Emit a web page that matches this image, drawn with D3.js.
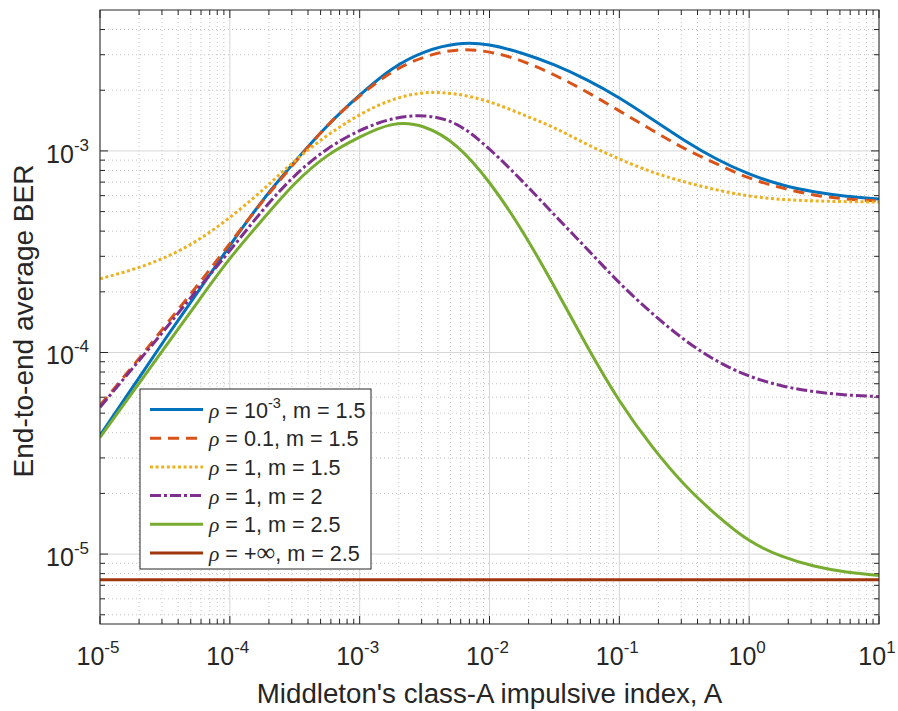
<!DOCTYPE html>
<html lang="en">
<head>
<meta charset="UTF-8">
<title>End-to-end average BER</title>
<script src="https://cdn.jsdelivr.net/npm/d3@7"></script>
<style>
  html, body {
    margin: 0;
    padding: 0;
    background: #fff;
    overflow: hidden;
  }
  text {
    font-family: "Liberation Sans", Arial, Helvetica, sans-serif;
    fill: #262626;
  }
</style>
</head>
<body>
<script>
  // Middleton class-A impulsive index A (sample points)
  let indexA = [1e-5, 1.78e-5, 3.16e-5, 5.62e-5, 1e-4, 1.78e-4, 3.16e-4, 5.62e-4,
    1e-3, 1.78e-3, 3.16e-3, 5.62e-3, 1e-2, 1.78e-2, 3.16e-2, 5.62e-2,
    1e-1, 1.78e-1, 3.16e-1, 5.62e-1, 1, 1.78, 3.16, 5.62, 10];

  // end-to-end average BER for each curve
  let berRho1e3m15 = [3.88e-5, 6.71e-5, 1.16e-4, 1.98e-4, 3.39e-4, 5.65e-4, 8.83e-4, 1.33e-3,
    1.89e-3, 2.55e-3, 3.09e-3, 3.39e-3, 3.35e-3, 3.05e-3, 2.67e-3, 2.25e-3,
    1.83e-3, 1.44e-3, 1.13e-3, 9.12e-4, 7.69e-4, 6.79e-4, 6.27e-4, 5.96e-4, 5.78e-4];
  let berRho01m15 = [5.47e-5, 8.53e-5, 1.35e-4, 2.15e-4, 3.47e-4, 5.60e-4, 8.73e-4, 1.33e-3,
    1.87e-3, 2.46e-3, 2.92e-3, 3.16e-3, 3.09e-3, 2.79e-3, 2.38e-3, 1.96e-3,
    1.58e-3, 1.27e-3, 1.03e-3, 8.62e-4, 7.35e-4, 6.56e-4, 6.05e-4, 5.78e-4, 5.65e-4];
  let berRho1m15 = [2.32e-4, 2.58e-4, 2.96e-4, 3.60e-4, 4.68e-4, 6.38e-4, 8.91e-4, 1.19e-3,
    1.51e-3, 1.79e-3, 1.94e-3, 1.91e-3, 1.75e-3, 1.52e-3, 1.30e-3, 1.08e-3,
    9.12e-4, 7.87e-4, 7.03e-4, 6.41e-4, 5.98e-4, 5.75e-4, 5.65e-4, 5.60e-4, 5.58e-4];
  let berRho1m2 = [5.35e-5, 8.34e-5, 1.30e-4, 2.05e-4, 3.20e-4, 5.05e-4, 7.52e-4, 1.02e-3,
    1.26e-3, 1.44e-3, 1.49e-3, 1.35e-3, 1.02e-3, 7.10e-4, 4.82e-4, 3.27e-4,
    2.22e-4, 1.57e-4, 1.16e-4, 9.10e-5, 7.65e-5, 6.84e-5, 6.40e-5, 6.16e-5, 6.04e-5];
  let berRho1m25 = [3.79e-5, 6.34e-5, 1.06e-4, 1.77e-4, 2.92e-4, 4.55e-4, 6.87e-4, 9.45e-4,
    1.17e-3, 1.35e-3, 1.31e-3, 1.05e-3, 6.95e-4, 4.02e-4, 2.12e-4, 1.08e-4,
    5.78e-5, 3.43e-5, 2.22e-5, 1.56e-5, 1.17e-5, 9.77e-6, 8.72e-6, 8.15e-6, 7.83e-6];
  let berRhoInfm25 = [7.45e-6, 7.45e-6, 7.45e-6, 7.45e-6, 7.45e-6, 7.45e-6, 7.45e-6, 7.45e-6,
    7.45e-6, 7.45e-6, 7.45e-6, 7.45e-6, 7.45e-6, 7.45e-6, 7.45e-6, 7.45e-6,
    7.45e-6, 7.45e-6, 7.45e-6, 7.45e-6, 7.45e-6, 7.45e-6, 7.45e-6, 7.45e-6, 7.45e-6];

  // tick labels (exponents of 10)
  let xTickExp = ['-5', '-4', '-3', '-2', '-1', '0', '1'];
  let yTickExp = ['-5', '-4', '-3'];

  // legend texts
  let legendRho = [['10', '-3'], ['0.1'], ['1'], ['1'], ['1'], ['+', '∞']];
  let legendM = ['1.5', '1.5', '1.5', '2', '2.5', '2.5'];

  let series = [
    {values: berRho1e3m15, color: '#0072bd', dash: null},
    {values: berRho01m15, color: '#d95319', dash: '11,7'},
    {values: berRho1m15, color: '#edb120', dash: '3,2.6'},
    {values: berRho1m2, color: '#7e2f8e', dash: '11,3,3,3'},
    {values: berRho1m25, color: '#77ac30', dash: null},
    {values: berRhoInfm25, color: '#a0360c', dash: null}
  ];

  let width = 898;
  let height = 711;
  let pLeft = 100, pRight = 879, pTop = 10, pBottom = 624;

  let x = d3.scaleLog().domain([1e-5, 10]).range([pLeft, pRight]);
  let y = d3.scaleLog().domain([4.5e-6, 5e-3]).range([pBottom, pTop]);

  let svg = d3.select('body').append('svg')
    .attr('width', width)
    .attr('height', height);

  svg.append('defs').append('clipPath').attr('id', 'plot')
    .append('rect')
    .attr('x', pLeft).attr('y', pTop)
    .attr('width', pRight - pLeft).attr('height', pBottom - pTop);

  // major & minor tick positions
  let xMajor = xTickExp.map(e => Math.pow(10, +e));
  let yMajor = yTickExp.map(e => Math.pow(10, +e));
  let minorOf = (scale) => {
    let [a, b] = scale.domain();
    let out = [];
    for (let d = Math.floor(Math.log10(a)); d <= Math.ceil(Math.log10(b)); d++) {
      for (let k = 2; k <= 9; k++) {
        let v = k * Math.pow(10, d);
        if (v > a && v < b) out.push(v);
      }
    }
    return out;
  };
  let xMinor = minorOf(x);
  let yMinor = minorOf(y);

  // grid
  let grid = svg.append('g');
  grid.selectAll('.xmin').data(xMinor).enter().append('line')
    .attr('x1', d => x(d)).attr('x2', d => x(d))
    .attr('y1', pTop).attr('y2', pBottom)
    .attr('stroke', '#c4c4c4').attr('stroke-width', 1)
    .attr('stroke-dasharray', '1,3');
  grid.selectAll('.ymin').data(yMinor).enter().append('line')
    .attr('y1', d => y(d)).attr('y2', d => y(d))
    .attr('x1', pLeft).attr('x2', pRight)
    .attr('stroke', '#c4c4c4').attr('stroke-width', 1)
    .attr('stroke-dasharray', '1,3');
  grid.selectAll('.xmaj').data(xMajor).enter().append('line')
    .attr('x1', d => x(d)).attr('x2', d => x(d))
    .attr('y1', pTop).attr('y2', pBottom)
    .attr('stroke', '#d6d6d6').attr('stroke-width', 1);
  grid.selectAll('.ymaj').data(yMajor).enter().append('line')
    .attr('y1', d => y(d)).attr('y2', d => y(d))
    .attr('x1', pLeft).attr('x2', pRight)
    .attr('stroke', '#d6d6d6').attr('stroke-width', 1);

  // ticks (inward, on all four sides)
  let ticks = svg.append('g').attr('stroke', '#262626').attr('stroke-width', 1);
  xMajor.concat(xMinor).forEach(d => {
    let len = xMajor.includes(d) ? 8 : 5;
    ticks.append('line').attr('x1', x(d)).attr('x2', x(d)).attr('y1', pBottom).attr('y2', pBottom - len);
    ticks.append('line').attr('x1', x(d)).attr('x2', x(d)).attr('y1', pTop).attr('y2', pTop + len);
  });
  yMajor.concat(yMinor).forEach(d => {
    let len = yMajor.includes(d) ? 8 : 5;
    ticks.append('line').attr('y1', y(d)).attr('y2', y(d)).attr('x1', pLeft).attr('x2', pLeft + len);
    ticks.append('line').attr('y1', y(d)).attr('y2', y(d)).attr('x1', pRight).attr('x2', pRight - len);
  });

  // curves
  let line = d3.line()
    .x((d, i) => x(indexA[i]))
    .y(d => y(d))
    .curve(d3.curveNatural);

  svg.append('g').attr('clip-path', 'url(#plot)')
    .selectAll('path').data(series).enter().append('path')
    .attr('d', s => line(s.values))
    .attr('fill', 'none')
    .attr('stroke', s => s.color)
    .attr('stroke-width', 3)
    .attr('stroke-dasharray', s => s.dash);

  // axes box
  svg.append('rect')
    .attr('x', pLeft).attr('y', pTop)
    .attr('width', pRight - pLeft).attr('height', pBottom - pTop)
    .attr('fill', 'none').attr('stroke', '#262626').attr('stroke-width', 1);

  // tick labels
  let xl = svg.append('g').selectAll('text').data(xTickExp).enter().append('text')
    .attr('x', d => x(Math.pow(10, +d)) - 2)
    .attr('y', 665)
    .attr('text-anchor', 'middle')
    .attr('font-size', 25);
  xl.append('tspan').text('10');
  xl.append('tspan').attr('dy', -12).attr('font-size', 17).text(d => d);

  let yl = svg.append('g').selectAll('text').data(yTickExp).enter().append('text')
    .attr('x', 89)
    .attr('y', d => y(Math.pow(10, +d)) + 12)
    .attr('text-anchor', 'end')
    .attr('font-size', 25);
  yl.append('tspan').text('10');
  yl.append('tspan').attr('dy', -12).attr('font-size', 17).text(d => d);

  // axis titles
  svg.append('text')
    .attr('x', (pLeft + pRight) / 2).attr('y', 703)
    .attr('text-anchor', 'middle')
    .attr('font-size', 27.7)
    .text("Middleton's class-A impulsive index, A");

  svg.append('text')
    .attr('transform', `translate(33, ${(pTop + pBottom) / 2 + 4}) rotate(-90)`)
    .attr('text-anchor', 'middle')
    .attr('font-size', 28)
    .text('End-to-end average BER');

  // legend
  let lg = svg.append('g');
  lg.append('rect')
    .attr('x', 140).attr('y', 389)
    .attr('width', 231).attr('height', 180)
    .attr('fill', '#fff').attr('stroke', '#262626').attr('stroke-width', 1);

  let rowY = i => 409.5 + i * 28.7;
  series.forEach((s, i) => {
    lg.append('line')
      .attr('x1', 150).attr('x2', 203)
      .attr('y1', rowY(i)).attr('y2', rowY(i))
      .attr('stroke', s.color).attr('stroke-width', 3)
      .attr('stroke-dasharray', s.dash);

    let t = lg.append('text')
      .attr('x', 209).attr('y', rowY(i) + 8)
      .attr('font-size', 21.6);
    t.append('tspan')
      .style('font-family', '"Liberation Serif", "DejaVu Serif", serif')
      .style('font-style', 'italic')
      .text('ρ');
    let r = legendRho[i];
    t.append('tspan').text(' = ' + r[0]);
    if (r[1] === '-3') {
      t.append('tspan').attr('dy', -10).attr('font-size', 14.5).text(r[1]);
      t.append('tspan').attr('dy', 10).text(', m = ' + legendM[i]);
    } else if (r[1] === '∞') {
      t.append('tspan')
        .style('font-family', '"Liberation Serif", "DejaVu Serif", serif')
        .attr('font-size', 26)
        .text('∞');
      t.append('tspan').text(', m = ' + legendM[i]);
    } else {
      t.append('tspan').text(', m = ' + legendM[i]);
    }
  });
</script>
</body>
</html>
